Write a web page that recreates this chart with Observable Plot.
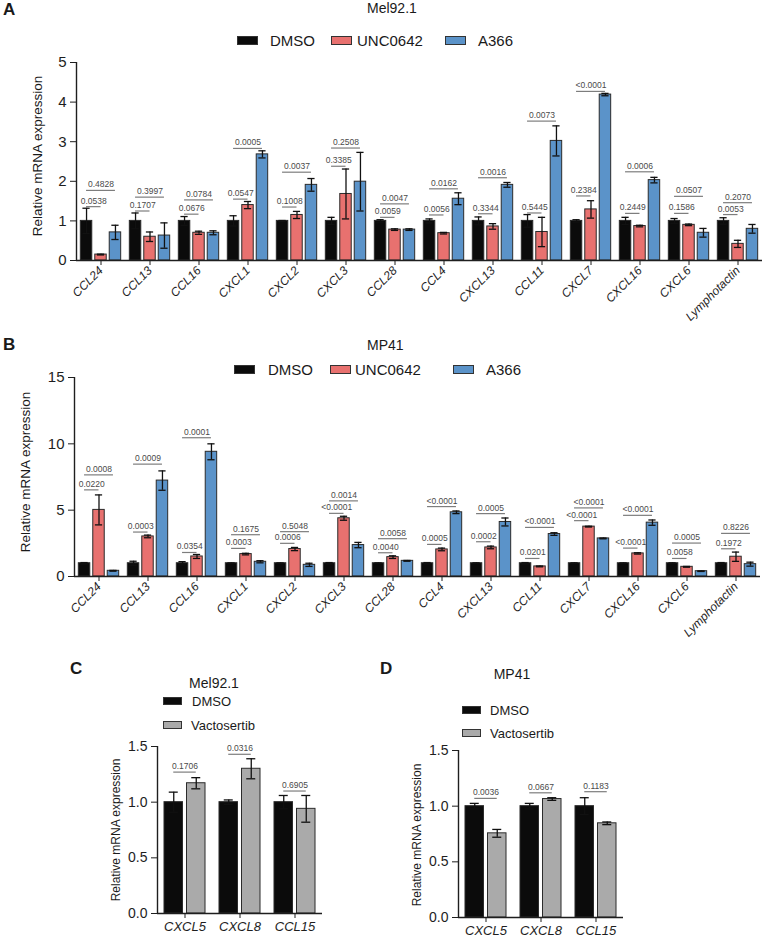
<!DOCTYPE html>
<html>
<head>
<meta charset="utf-8">
<script src="https://cdn.jsdelivr.net/npm/d3@7"></script>
<script src="https://cdn.jsdelivr.net/npm/@observablehq/plot@0.6"></script>
<style>
  body { margin: 0; background: #fff; }
  #fig { position: relative; width: 767px; height: 940px; overflow: hidden; background: #fff;
         font-family: "Liberation Sans", Arial, Helvetica, sans-serif; color: #1a1a1a; }
  .t { position: absolute; white-space: nowrap; line-height: 1; }
  .sw { position: absolute; box-sizing: border-box; border: 1.2px solid #333; }
  .plot { position: absolute; }
</style>
</head>
<body>
<div id="fig"></div>
<script>
// ---------------- data ----------------
const genesAB = ["CCL24", "CCL13", "CCL16", "CXCL1", "CXCL2", "CXCL3", "CCL28",
                 "CCL4", "CXCL13", "CCL11", "CXCL7", "CXCL16", "CXCL6", "Lymphotactin"];
const treatmentsAB = ["DMSO", "UNC0642", "A366"];

// Mel92.1 (panel A)
const dmsoA     = [1, 1, 1, 1, 1, 1, 1, 1, 1, 1, 1, 1, 1, 1];
const dmsoErrA  = [0.32, 0.20, 0.11, 0.13, 0.01, 0.09, 0.03, 0.05, 0.10, 0.16, 0.03, 0.09, 0.06, 0.08];
const uncA      = [0.15, 0.60, 0.70, 1.40, 1.15, 1.68, 0.78, 0.69, 0.86, 0.72, 1.29, 0.87, 0.90, 0.42];
const uncErrA   = [0.01, 0.12, 0.04, 0.09, 0.09, 0.63, 0.02, 0.02, 0.07, 0.37, 0.22, 0.02, 0.02, 0.09];
const a366A     = [0.71, 0.63, 0.70, 2.68, 1.91, 1.99, 0.78, 1.56, 1.91, 3.02, 4.19, 2.03, 0.70, 0.80];
const a366ErrA  = [0.18, 0.32, 0.05, 0.09, 0.16, 0.74, 0.02, 0.15, 0.06, 0.38, 0.03, 0.07, 0.11, 0.11];
const pUncA     = ["0.0538", "0.1707", "0.0676", "0.0547", "0.1008", "0.3385", "0.0059",
                   "0.0056", "0.3344", "0.5445", "0.2384", "0.2449", "0.1586", "0.0053"];
const pA366A    = ["0.4828", "0.3997", "0.0784", "0.0005", "0.0037", "0.2508", "0.0047",
                   "0.0162", "0.0016", "0.0073", "<0.0001", "0.0006", "0.0507", "0.2070"];
const levelUncA  = [1.36, 1.25, 1.17, 1.55, 1.35, 2.38, 1.09, 1.15, 1.18, 1.20, 1.63, 1.19, 1.19, 1.16];
const levelA366A = [1.77, 1.60, 1.53, 2.83, 2.23, 2.84, 1.43, 1.81, 2.09, 3.52, 4.27, 2.24, 1.62, 1.46];

// MP41 (panel B)
const dmsoB     = [1, 1, 1, 1, 1, 1, 1, 1, 1, 1, 1, 1, 1, 1];
const dmsoErrB  = [0.05, 0.15, 0.12, 0.02, 0.02, 0.05, 0.02, 0.05, 0.03, 0.05, 0.03, 0.02, 0.03, 0.05];
const uncB      = [5.02, 3.02, 1.51, 1.69, 2.07, 4.39, 1.46, 2.04, 2.19, 0.76, 3.76, 1.74, 0.73, 1.49];
const uncErrB   = [1.13, 0.10, 0.15, 0.06, 0.12, 0.15, 0.10, 0.10, 0.10, 0.03, 0.03, 0.05, 0.03, 0.35];
const a366B     = [0.43, 7.23, 9.40, 1.11, 0.88, 2.37, 1.18, 4.84, 4.11, 3.20, 2.87, 4.06, 0.40, 0.93];
const a366ErrB  = [0.03, 0.73, 0.60, 0.08, 0.12, 0.20, 0.03, 0.10, 0.30, 0.10, 0.03, 0.20, 0.02, 0.15];
const pUncB     = ["0.0220", "0.0003", "0.0354", "0.0003", "0.0006", "<0.0001", "0.0040",
                   "0.0005", "0.0002", "0.0201", "<0.0001", "<0.0001", "0.0058", "0.1972"];
const pA366B    = ["0.0008", "0.0009", "0.0001", "0.1675", "0.5048", "0.0014", "0.0058",
                   "<0.0001", "0.0005", "<0.0001", "<0.0001", "<0.0001", "0.0005", "0.8226"];
const levelUncB  = [6.53, 3.35, 1.81, 2.12, 2.50, 4.76, 1.79, 2.42, 2.62, 1.36, 4.21, 2.14, 1.36, 2.09];
const levelA366B = [7.66, 8.47, 10.46, 3.15, 3.38, 5.70, 2.85, 5.27, 4.74, 3.70, 5.17, 4.61, 2.52, 3.25];

// Vactosertib experiments (panels C and D)
const genesCD = ["CXCL5", "CXCL8", "CCL15"];
const treatmentsCD = ["DMSO", "Vactosertib"];
const dmsoC     = [1, 1, 1];
const dmsoErrC  = [0.09, 0.02, 0.06];
const vactC     = [1.17, 1.30, 0.94];
const vactErrC  = [0.05, 0.09, 0.12];
const pC        = ["0.1706", "0.0316", "0.6905"];
const levelC    = [1.27, 1.43, 1.10];

const dmsoD     = [1, 1, 1];
const dmsoErrD  = [0.025, 0.025, 0.076];
const vactD     = [0.756, 1.064, 0.846];
const vactErrD  = [0.035, 0.012, 0.012];
const pD        = ["0.0036", "0.0667", "0.1183"];
const levelD    = [1.07, 1.12, 1.13];

const yTicksA = [0, 1, 2, 3, 4, 5];
const yTicksB = [0, 5, 10, 15];
const yTicksCD = [0, 0.5, 1.0, 1.5];

const colorsAB = ["#0b0b0b", "#e8716f", "#5b93c9"];
const colorsCD = ["#0b0b0b", "#aaaaaa"];

// ---------------- helpers ----------------
const FONT = '"Liberation Sans", Arial, Helvetica, sans-serif';
const fig = document.getElementById("fig");

function rowsOf(genes, treatments, means, errs) {
  return genes.flatMap((gene, gi) =>
    treatments.map((treatment, ti) => ({gene, treatment, pos: ti, value: means[ti][gi], err: errs[ti][gi]})));
}

// comparisons against DMSO (position 0)
function bracketsOf(genes, comps) {
  return comps.flatMap(({to, p, level}) =>
    genes.map((gene, gi) => ({gene, from: 0, to, p: p[gi], level: level[gi]})));
}

function barChart(o) {
  const n = o.treatments.length;
  const xDomain = [-0.5 - o.pad, n - 0.5 + o.pad];
  const yMax = o.yTicks[o.yTicks.length - 1];
  const ink = "#1e1e1e";
  const svg = Plot.plot({
    width: o.width, height: o.height,
    marginLeft: o.margin[3], marginRight: o.margin[1], marginTop: o.margin[0], marginBottom: o.margin[2],
    style: {fontFamily: FONT, background: "transparent", overflow: "visible", color: ink},
    fx: {domain: o.genes, padding: 0, label: null},
    x: {domain: xDomain, axis: null},
    y: {domain: [0, yMax], label: null},
    color: {domain: o.treatments, range: o.colors},
    marks: [
      Plot.rectY(o.rows, {
        fx: "gene", x1: d => d.pos - 0.5, x2: d => d.pos + 0.5, y1: 0, y2: "value",
        fill: "treatment", stroke: "#2b2b2b", strokeWidth: 1, insetLeft: o.gap, insetRight: o.gap
      }),
      Plot.ruleX(o.rows, {fx: "gene", x: "pos", y1: d => d.value - d.err, y2: d => d.value + d.err,
        stroke: "#111", strokeWidth: 1.3}),
      Plot.ruleY(o.rows, {fx: "gene", x1: d => d.pos - o.cap, x2: d => d.pos + o.cap, y: d => d.value + d.err,
        stroke: "#111", strokeWidth: 1.3}),
      Plot.ruleY(o.rows, {fx: "gene", x1: d => d.pos - o.cap, x2: d => d.pos + o.cap, y: d => d.value - d.err,
        stroke: "#111", strokeWidth: 1.3}),
      Plot.ruleY(o.brackets, {fx: "gene", x1: "from", x2: "to", y: "level", stroke: "#7d7d7d", strokeWidth: 1.2}),
      Plot.text(o.brackets, {fx: "gene", x: d => (d.from + d.to) / 2, y: "level", text: "p",
        dy: -3, lineAnchor: "bottom", fontSize: o.pFont, fill: "#4a4a4a"}),
      Plot.ruleY([0], {stroke: ink, strokeWidth: 1.4}),
      Plot.ruleX([{gene: o.genes[0]}], {fx: "gene", x: xDomain[0], y1: 0, y2: yMax, stroke: ink, strokeWidth: 1.4}),
      Plot.axisY({ticks: o.yTicks, tickFormat: o.tickFormat, tickSize: 6, tickPadding: 4,
        fontSize: o.tickFont, label: null}),
      Plot.axisFx({anchor: "bottom", tickSize: 5, tickPadding: 3, tickRotate: o.rotate, fontStyle: "italic",
        fontSize: o.catFont, label: null})
    ]
  });
  svg.classList.add("plot");
  svg.style.left = o.left + "px";
  svg.style.top = o.top + "px";
  fig.appendChild(svg);
}

function text(str, {x, y, size, weight = "normal", align = "left", rotate = 0}) {
  const el = document.createElement("div");
  el.className = "t";
  el.textContent = str;
  el.style.left = x + "px";
  el.style.top = y + "px";
  el.style.fontSize = size + "px";
  el.style.fontWeight = weight;
  const tx = align === "center" ? "-50%" : "0";
  el.style.transform = `translate(${tx}, -50%)` + (rotate ? ` rotate(${rotate}deg)` : "");
  fig.appendChild(el);
}

function swatchItem(label, color, {sx, lx, y, w, h, size}) {
  const s = document.createElement("div");
  s.className = "sw";
  s.style.left = sx + "px";
  s.style.top = (y - h / 2) + "px";
  s.style.width = w + "px";
  s.style.height = h + "px";
  s.style.background = color;
  fig.appendChild(s);
  text(label, {x: lx, y, size});
}

// ---------------- panel A ----------------
barChart({
  genes: genesAB, treatments: treatmentsAB, colors: colorsAB,
  rows: rowsOf(genesAB, treatmentsAB, [dmsoA, uncA, a366A], [dmsoErrA, uncErrA, a366ErrA]),
  brackets: bracketsOf(genesAB, [{to: 1, p: pUncA, level: levelUncA}, {to: 2, p: pA366A, level: levelA366A}]),
  yTicks: yTicksA, tickFormat: d => d,
  left: 0, top: 50, width: 767, height: 275, margin: [12, 2, 65, 72],
  pad: 0.195, gap: 1.5, cap: 0.25, tickFont: 15, catFont: 12, pFont: 8.5, rotate: -45
});
text("A", {x: 3, y: 9, size: 17, weight: "bold"});
text("Mel92.1", {x: 367, y: 8, size: 14});
swatchItem("DMSO", colorsAB[0], {sx: 237, lx: 270, y: 40, w: 21, h: 9, size: 15});
swatchItem("UNC0642", colorsAB[1], {sx: 331, lx: 357, y: 40, w: 21, h: 9, size: 15});
swatchItem("A366", colorsAB[2], {sx: 445, lx: 478, y: 40, w: 21, h: 9, size: 15});
text("Relative mRNA expression", {x: 38, y: 156, size: 13.5, align: "center", rotate: -90});

// ---------------- panel B ----------------
barChart({
  genes: genesAB, treatments: treatmentsAB, colors: colorsAB,
  rows: rowsOf(genesAB, treatmentsAB, [dmsoB, uncB, a366B], [dmsoErrB, uncErrB, a366ErrB]),
  brackets: bracketsOf(genesAB, [{to: 1, p: pUncB, level: levelUncB}, {to: 2, p: pA366B, level: levelA366B}]),
  yTicks: yTicksB, tickFormat: d => d,
  left: 0, top: 365, width: 767, height: 275, margin: [12, 4, 64, 70],
  pad: 0.195, gap: 1.5, cap: 0.25, tickFont: 15, catFont: 12, pFont: 8.5, rotate: -45
});
text("B", {x: 3, y: 344, size: 17, weight: "bold"});
text("MP41", {x: 367, y: 345, size: 14});
swatchItem("DMSO", colorsAB[0], {sx: 234, lx: 268, y: 369, w: 21, h: 9, size: 15});
swatchItem("UNC0642", colorsAB[1], {sx: 330, lx: 355, y: 369, w: 21, h: 9, size: 15});
swatchItem("A366", colorsAB[2], {sx: 453, lx: 486, y: 369, w: 21, h: 9, size: 15});
text("Relative mRNA expression", {x: 26, y: 471.5, size: 13.5, align: "center", rotate: -90});

// ---------------- panel C ----------------
barChart({
  genes: genesCD, treatments: treatmentsCD, colors: colorsCD,
  rows: rowsOf(genesCD, treatmentsCD, [dmsoC, vactC], [dmsoErrC, vactErrC]),
  brackets: bracketsOf(genesCD, [{to: 1, p: pC, level: levelC}]),
  yTicks: yTicksCD, tickFormat: d3.format(".1f"),
  left: 100, top: 735, width: 230, height: 205, margin: [11, 8, 27, 57],
  pad: 0.222, gap: 2, cap: 0.2, tickFont: 14, catFont: 13, pFont: 8.5, rotate: 0
});
text("C", {x: 70, y: 668, size: 17, weight: "bold"});
text("Mel92.1", {x: 214, y: 683, size: 14, align: "center"});
swatchItem("DMSO", colorsCD[0], {sx: 163, lx: 192, y: 701, w: 19, h: 8, size: 13});
swatchItem("Vactosertib", colorsCD[1], {sx: 163, lx: 191, y: 725, w: 19, h: 8, size: 13});
text("Relative mRNA expression", {x: 116, y: 829.5, size: 12, align: "center", rotate: -90});

// ---------------- panel D ----------------
barChart({
  genes: genesCD, treatments: treatmentsCD, colors: colorsCD,
  rows: rowsOf(genesCD, treatmentsCD, [dmsoD, vactD], [dmsoErrD, vactErrD]),
  brackets: bracketsOf(genesCD, [{to: 1, p: pD, level: levelD}]),
  yTicks: yTicksCD, tickFormat: d3.format(".1f"),
  left: 400, top: 735, width: 230, height: 205, margin: [15, 6, 23, 57],
  pad: 0.222, gap: 2, cap: 0.2, tickFont: 14, catFont: 13, pFont: 8.5, rotate: 0
});
text("D", {x: 380, y: 668, size: 17, weight: "bold"});
text("MP41", {x: 512, y: 674, size: 14, align: "center"});
swatchItem("DMSO", colorsCD[0], {sx: 462, lx: 490, y: 710, w: 19, h: 8, size: 13});
swatchItem("Vactosertib", colorsCD[1], {sx: 462, lx: 490, y: 733, w: 19, h: 8, size: 13});
text("Relative mRNA expression", {x: 417, y: 834.5, size: 12, align: "center", rotate: -90});
</script>
</body>
</html>
